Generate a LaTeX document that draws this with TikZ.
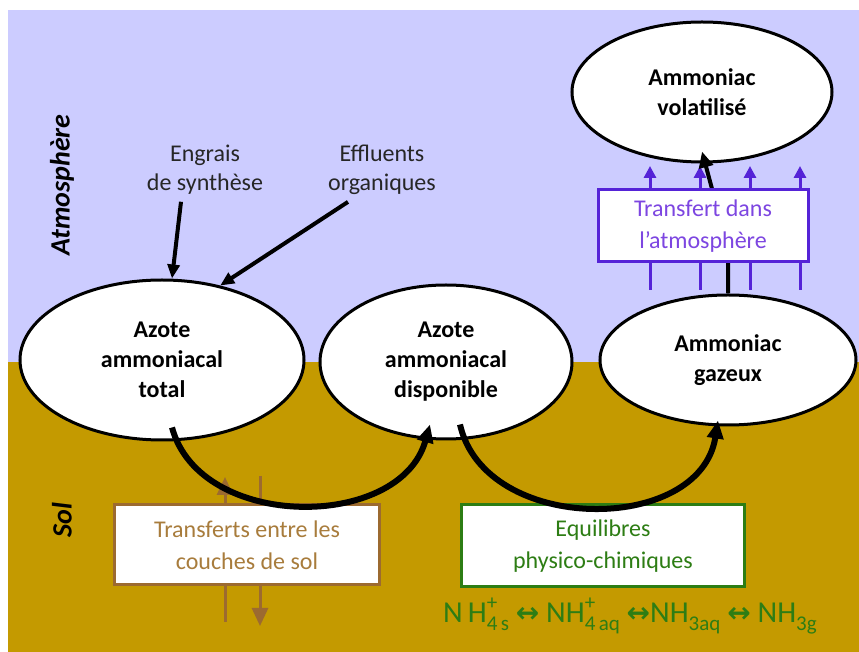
\documentclass[tikz,border=0pt]{standalone}
\usepackage{fontspec}
\setmainfont{Carlito}
\newfontfamily\flechefont{DejaVu Sans}
\usetikzlibrary{shapes.geometric,arrows.meta}
\definecolor{ciel}{RGB}{204,204,255}
\definecolor{terre}{RGB}{196,154,0}
\definecolor{airbord}{RGB}{85,35,215}
\definecolor{airtexte}{RGB}{125,70,225}
\definecolor{solbord}{RGB}{156,106,48}
\definecolor{soltexte}{RGB}{168,124,60}
\definecolor{equivert}{RGB}{45,125,20}
\newcommand{\indice}[1]{\raisebox{-0.55ex}{\fontsize{10.5}{10.5}\selectfont #1}}
\newcommand{\exposant}[1]{\raisebox{0.95ex}{\fontsize{10.5}{10.5}\selectfont #1}}
\newcommand{\equilfleche}{{\flechefont\bfseries\fontsize{14}{14}\selectfont ↔}}
\begin{document}
\begin{tikzpicture}[x=0.5pt, y=-0.5pt,
  etat/.style={ellipse, draw, line width=1.5pt, fill=white, inner sep=0pt,
    align=center, font=\fontsize{12}{15}\selectfont\bfseries},
  flux/.style={line width=3pt, -{Triangle[length=9pt,width=8pt]}},
  apport/.style={line width=2pt, -{Triangle[length=7pt,width=6pt]}},
  cadre/.style={draw, line width=1.5pt, fill=white, align=center, inner sep=0pt,
    font=\fontsize{12}{16}\selectfont},
  legende/.style={align=center, font=\fontsize{12}{14.5}\selectfont, text=black!85},
  milieu/.style={rotate=90, font=\fontsize{14}{14}\selectfont\bfseries\itshape}]
%
\useasboundingbox (0,0) rectangle (859,652);
\fill[ciel] (8,10) rectangle (859,362);
\fill[terre] (8,362) rectangle (859,652);
%
\node[milieu] (atmo) at (62,185) {Atmosphère};
\node[milieu] (sol) at (62,520) {Sol};
%
% flux sous les cadres
\draw[line width=1.5pt, solbord, -{Triangle[length=9pt,width=8pt]}] (225,622) -- (225,477);
\draw[line width=1.5pt, solbord, -{Triangle[length=9pt,width=8pt]}] (260,476) -- (260,626);
\foreach \x in {650,700,750,800}
  \draw[line width=1.5pt, airbord, -{Triangle[length=6pt,width=6pt]}] (\x,290) -- (\x,166);
%
\node[etat, minimum width=142pt, minimum height=80pt] (tot) at (162,360)
  {Azote\\ammoniacal\\total};
\node[etat, minimum width=126pt, minimum height=77pt] (disp) at (446,362)
  {Azote\\ammoniacal\\disponible};
\node[etat, minimum width=128pt, minimum height=65pt] (gaz) at (728,360)
  {Ammoniac\\gazeux};
\node[etat, minimum width=130pt, minimum height=70pt] (vol) at (702,92)
  {Ammoniac\\volatilisé};
%
\draw[line width=2pt, -{Triangle[length=8pt,width=7pt]}]
  (gaz.north) -- ++(0,-45) -- ([yshift=6pt]vol.south);
%
\node[cadre, draw=airbord, text=airtexte, minimum width=105pt, minimum height=36pt]
  (atm) at (703,226) {Transfert dans\\l’atmosphère};
\node[cadre, draw=solbord, text=soltexte, minimum width=132.5pt, minimum height=40pt]
  (couches) at (247,545) {Transferts entre les\\couches de sol};
\node[cadre, draw=equivert, text=equivert, minimum width=141.5pt, minimum height=41pt]
  (equi) at (603,546) {Equilibres\\physico-chimiques};
%
\node[legende] (engrais) at (205,170) {Engrais\\de synthèse};
\node[legende] (effl) at (382,170) {Effluents\\organiques};
\draw[apport] ([xshift=-12pt]engrais.south) -- ([xshift=5pt]tot.north);
\draw[apport] ([xshift=-17pt]effl.south) -- (tot.52);
%
\draw[flux] ([xshift=5pt,yshift=7pt]tot.south)
  .. controls (200,531) and (400,531) .. ([xshift=-8pt,yshift=8pt]disp.south);
\draw[flux] ([xshift=7pt,yshift=8pt]disp.south)
  .. controls (485,535) and (700,535) .. ([xshift=-5pt,yshift=3pt]gaz.south);
%
\node[text=equivert, font=\fontsize{15.2}{15.2}\selectfont, anchor=base] (formule) at (630,623)
  {N\,H\rlap{\indice{4}}\exposant{+}\indice{\,s} \equilfleche{} NH\rlap{\indice{4}}\exposant{+}\indice{\,aq} \equilfleche NH\indice{3aq} \equilfleche{} NH\indice{3g}};
%
\end{tikzpicture}
\end{document}
